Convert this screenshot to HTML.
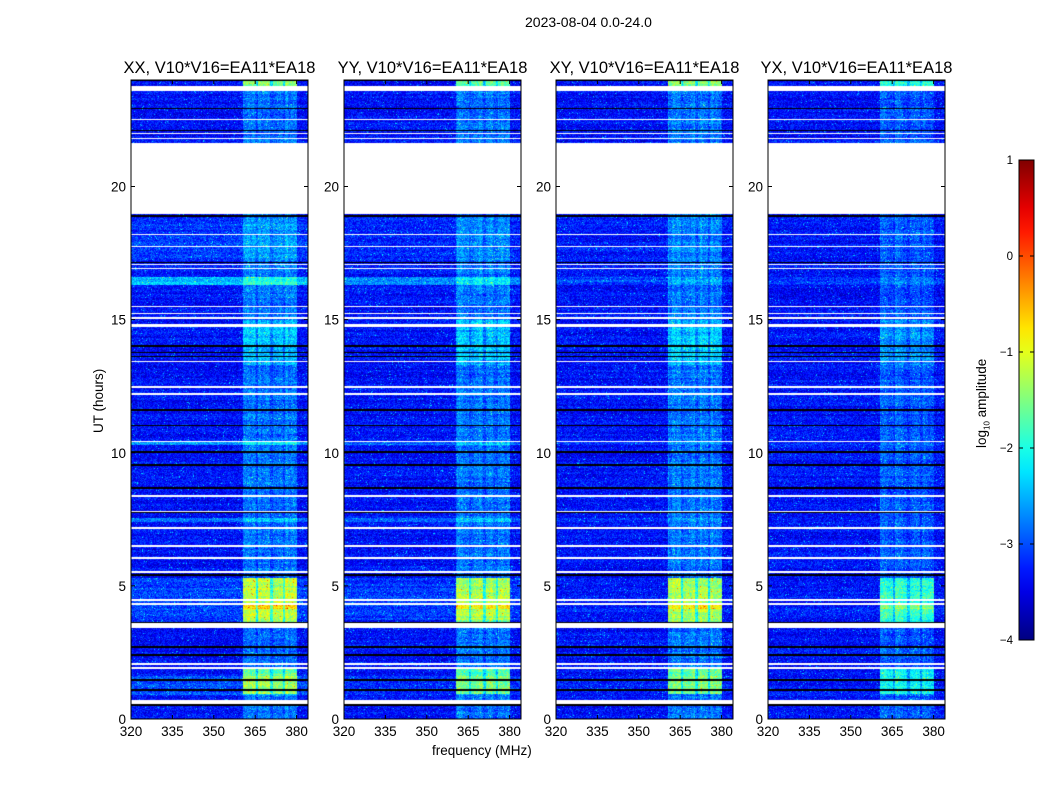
<!DOCTYPE html>
<html><head><meta charset="utf-8"><style>
body{margin:0;background:#fff;font-family:"Liberation Sans",sans-serif;}
#wrap{position:relative;width:1050px;height:800px;overflow:hidden;}
.t{position:absolute;font-size:13.5px;color:#000;white-space:nowrap;}
canvas{position:absolute;}
</style></head><body>
<div id="wrap">
<div class="t" style="left:525px;top:14px;font-size:14px">2023-08-04 0.0-24.0</div>
<div class="t" style="left:432px;top:743px">frequency (MHz)</div>
<div class="t" style="left:91px;top:433px;transform:rotate(-90deg);transform-origin:0 0">UT (hours)</div>
<div class="t" style="left:974px;top:448px;transform:rotate(-90deg);transform-origin:0 0">log<sub style="font-size:8px">10</sub> amplitude</div>
<svg id="svg" width="1050" height="800" style="position:absolute;left:0;top:0"></svg>
</div>
<script>
const panelTitles=["XX, V10*V16=EA11*EA18","YY, V10*V16=EA11*EA18","XY, V10*V16=EA11*EA18","YX, V10*V16=EA11*EA18"];
const panelLeft=[131,344,556,768];
const xTicks=[320,335,350,365,380];
const yTicks=[0,5,10,15,20];
const cbTicks=[-4,-3,-2,-1,0,1];
const baseLevel=-3.45;
const whiteStart=[23.58,22.48,21.96,21.77,18.95,18.17,17.72,17.04,16.89,15.47,15.2,15.02,14.72,13.4,12.43,12.17,10.4,8.34,7.77,7.14,6.46,6.01,5.49,4.44,4.29,3.4,2.03,1.88,0.58];
const whiteEnd=  [23.78,22.54,22.02,21.83,21.62,18.23,17.78,17.1,16.95,15.53,15.26,15.08,14.82,13.46,12.49,12.23,10.46,8.4,7.83,7.2,6.52,6.07,5.55,4.5,4.35,3.6,2.09,1.94,0.7];
const blackTime=[23.98,22.93,22.1,21.6,18.87,18.9,17.15,14.0,13.77,13.62,11.6,11.03,10.02,9.53,8.67,7.77,5.4,3.49,3.63,2.7,2.4,1.46,1.09,0.53];
const hotStart=[23.6,3.65,0.95,4.15,13.3,14.2];
const hotEnd=  [24.0,5.3,1.95,4.3,14.6,15.0];
const hotBoost=[1.4,1.45,1.2,2.0,0.4,0.4];
const liftStart=[16.3,10.3,7.4,3.7,0.9,17.2];
const liftEnd=  [16.6,10.45,7.55,5.3,1.6,18.8];
const liftVal=  [0.9,0.65,0.55,0.3,0.3,0.2];
const panelLift=[1,0.7,0.3,0.2];
const panelBand=[1,0.95,1.05,0.75];
const bandLo=360.6, bandHi=380.2;
const bandGaps=[365.6,370.9,375.4];

const W=177,H=639,T0=80;
const xs=f=>(f-320)*2.76, ys=h=>H-(h)*H/24.0;
function jet(v){let t=(v+4)/5;t=Math.max(0,Math.min(1,t));const c=x=>Math.round(255*Math.max(0,Math.min(1,1.5-Math.abs(x))));return [c(4*t-3),c(4*t-2),c(4*t-1)];}
function tex(i,j,p){let n=(i*374761393+j*668265263+p*1274126177)|0;n=(n^(n>>>13))*1274126177|0;return ((n^(n>>>16))>>>0)/4294967296;}
const wrap=document.getElementById('wrap');
const svg=document.getElementById('svg');
const NS='http://www.w3.org/2000/svg';
function mk(tag,attrs,name){const e=document.createElementNS(NS,tag);for(const k in attrs)e.setAttribute(k,attrs[k]);


svg.appendChild(e);return e;}
function txt(x,y,s,anchor,size,name){const e=mk('text',{x:x,y:y,'text-anchor':anchor,'font-size':size,'font-family':'Liberation Sans, sans-serif'},name);e.textContent=s;return e;}
for(let p=0;p<4;p++){
  const cv=document.createElement('canvas');cv.width=W;cv.height=H;cv.style.left=panelLeft[p]+'px';cv.style.top=T0+'px';
  
  
  wrap.insertBefore(cv,svg);
  const ctx=cv.getContext('2d');const img=ctx.createImageData(W,H);
  for(let y=0;y<H;y++){
    const h=(H-y-0.5)*24/H;
    let white=false;for(let k=0;k<whiteStart.length;k++)if(h>=whiteStart[k]&&h<=whiteEnd[k])white=true;
    let black=false;for(let k=0;k<blackTime.length;k++)if(Math.abs(h-blackTime[k])<0.03)black=true;
    let lift=0;for(let k=0;k<liftStart.length;k++)if(h>=liftStart[k]&&h<=liftEnd[k])lift+=liftVal[k]*panelLift[p];
    let hot=0;for(let k=0;k<hotStart.length;k++)if(h>=hotStart[k]&&h<=hotEnd[k])hot=Math.max(hot,hotBoost[k]);
    const rowN=tex(Math.floor(y/2),7,p)*0.25;
    for(let x=0;x<W;x++){
      const f=320+(x+0.5)/2.76;const o=(y*W+x)*4;
      let r,g,b;
      if(white){r=g=b=255;}else if(black){r=g=b=0;}
      else{
        const nz=tex(x,y,p);
        let v=baseLevel+lift+rowN+(nz-0.5)*0.7+(nz>0.985?0.6:0);
        if(f>=bandLo&&f<=bandHi){
          let gap=false;for(const gg of bandGaps)if(Math.abs(f-gg)<0.45)gap=true;
          let bb=0.4+0.25*tex(Math.floor(f),3,p);
          if(hot>0)bb+=hot*(0.88+0.12*tex(Math.floor(f/5),Math.floor(h*4),p));
          bb*=panelBand[p];if(gap)bb*=0.6;
          v+=bb;
        }
        [r,g,b]=jet(v);
      }
      img.data[o]=r;img.data[o+1]=g;img.data[o+2]=b;img.data[o+3]=255;
    }
  }
  ctx.putImageData(img,0,0);
  const L=panelLeft[p];
  mk('rect',{x:L,y:T0,width:W,height:H,fill:'none',stroke:'#000','stroke-width':1},'panel-frame-'+p);
  txt(L+W/2,73,panelTitles[p],'middle',16.5,'panel-title-'+p);
  for(const t of xTicks){const X=L+xs(t);
    mk('line',{x1:X,x2:X,y1:T0+H,y2:T0+H-4,stroke:'#000'},'x-tick');
    mk('line',{x1:X,x2:X,y1:T0,y2:T0+4,stroke:'#000'},'x-tick-top');
    txt(X,T0+H+17,String(t),'middle',13.5,'x-tick-label');}
  for(const t of yTicks){const Y=T0+ys(t);
    mk('line',{x1:L,x2:L+4,y1:Y,y2:Y,stroke:'#000'},'y-tick');
    mk('line',{x1:L+W,x2:L+W-4,y1:Y,y2:Y,stroke:'#000'},'y-tick-right');
    txt(L-5,Y+5,String(t),'end',13.5,'y-tick-label');}
}
const cbx=1019,cby=160,cbw=15,cbh=480;
const defs=mk('defs',{},'defs');const lg=document.createElementNS(NS,'linearGradient');lg.setAttribute('id','jet');lg.setAttribute('x1','0');lg.setAttribute('y1','1');lg.setAttribute('x2','0');lg.setAttribute('y2','0');
for(let i=0;i<=20;i++){const v=-4+5*i/20;const c=jet(v);const s=document.createElementNS(NS,'stop');s.setAttribute('offset',i/20);s.setAttribute('stop-color','rgb('+c.join(',')+')');lg.appendChild(s);}
defs.appendChild(lg);
mk('rect',{x:cbx,y:cby,width:cbw,height:cbh,fill:'url(#jet)',stroke:'#000','stroke-width':1},'colorbar');
for(const t of cbTicks){const Y=cby+cbh-(t+4)/5*cbh;
  mk('line',{x1:cbx,x2:cbx+4,y1:Y,y2:Y,stroke:'#000'},'colorbar-tick');
  mk('line',{x1:cbx+cbw,x2:cbx+cbw-4,y1:Y,y2:Y,stroke:'#000'},'colorbar-tick-right');
  txt(cbx-6,Y+4,(t<0?'\u2212':'')+Math.abs(t),'end',11.5,'colorbar-tick-label');}
</script>
</body></html>
